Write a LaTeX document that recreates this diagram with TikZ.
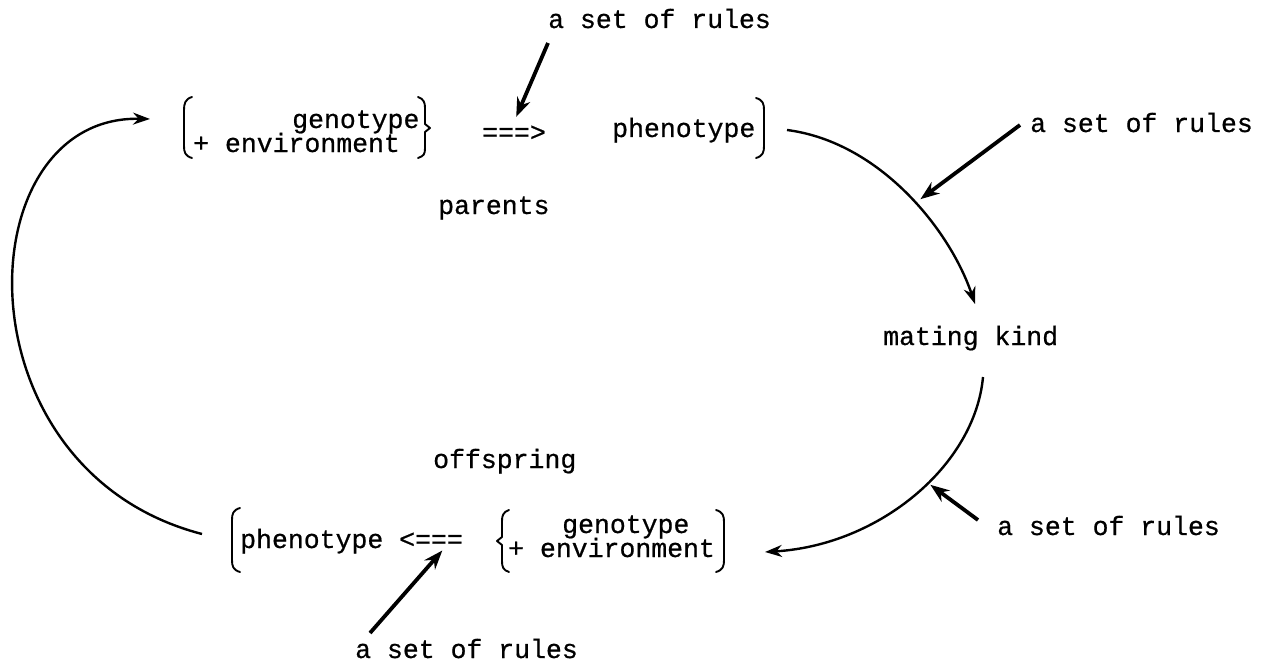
\documentclass[tikz,border=0pt]{standalone}
\usepackage{fontspec}
\newfontfamily\tw[FakeBold=0.6]{Liberation Mono}
\usetikzlibrary{arrows.meta}
\tikzset{
  txt/.style={font=\tw\fontsize{26.5}{30}\selectfont, inner sep=0pt, anchor=base west},
  brk/.style={line width=1.9pt, line cap=round, line join=round},
  flow/.style={line width=2.4pt, -{Stealth[length=17pt,width=12pt]}},
  rule/.style={line width=3.8pt, -{Stealth[length=19pt,width=14pt]}, shorten >=-2pt}
}
\begin{document}
\begin{tikzpicture}[x=1pt,y=-1pt]
\useasboundingbox (0,0) rectangle (1263,666);
% texts
\node[txt] (r1) at (548,28) {a set of rules};
\node[txt] (g1a) at (292,128) {genotype};
\node[txt] (g1b) at (193,152) {+ environment};
\node[txt] (ar1) at (482,141) {===>};
\node[txt] (ph1) at (612,137) {phenotype};
\node[txt] (par) at (438,214) {parents};
\node[txt] (r2) at (1030,132) {a set of rules};
\node[txt] (mk) at (883,345) {mating kind};
\node[txt] (off) at (433,468) {offspring};
\node[txt] (r3) at (997,535) {a set of rules};
\node[txt] (ph2) at (240,548) {phenotype <===};
\node[txt] (g2a) at (562,533) {genotype};
\node[txt] (g2b) at (508,557) {+ environment};
\node[txt] (r4) at (355,658) {a set of rules};
% brackets
\draw[brk] (192,97) .. controls (185,99) and (184,104) .. (184,110) -- (184,146) .. controls (184,152) and (185,156) .. (192,158);
\draw[brk] (418,97) .. controls (424,99) and (425,103) .. (425,108) -- (425,124) -- (430,128) -- (425,132) -- (425,148) .. controls (425,154) and (424,156) .. (418,158);
\draw[brk] (756,98) .. controls (763,100) and (764,104) .. (764,110) -- (764,146) .. controls (764,152) and (763,156) .. (756,158);
\draw[brk] (240,508) .. controls (233,510) and (232,514) .. (232,520) -- (232,560) .. controls (232,566) and (233,570) .. (240,572);
\draw[brk] (509,510) .. controls (503,512) and (502,516) .. (502,521) -- (502,537) -- (497,541) -- (502,545) -- (502,561) .. controls (502,567) and (503,570) .. (509,572);
\draw[brk] (716,510) .. controls (723,512) and (724,516) .. (724,522) -- (724,560) .. controls (724,566) and (723,570) .. (716,572);
% connector end points
\coordinate (c1s) at (787,130);
\coordinate (c1e) at (975,304);
\coordinate (c2s) at (983,377);
\coordinate (c2e) at (765,552);
\coordinate (c3s) at (202,534);
\coordinate (c3e) at (150,119);
\coordinate (t1) at (548,43);  \coordinate (h1) at (517,115);
\coordinate (t2) at (1020,125); \coordinate (h2) at (922,198);
\coordinate (t3) at (978,520); \coordinate (h3) at (932,486);
\coordinate (t4) at (370,633); \coordinate (h4) at (441,552);
% flow curves
\draw[flow] (c1s) .. controls (880,142) and (950,230) .. (c1e);
\draw[flow] (c2s) .. controls (975,465) and (880,545) .. (c2e);
\draw[flow] (c3s) .. controls (-45,470) and (-35,115) .. (c3e);
% rule arrows
\draw[rule] (t1) -- (h1);
\draw[rule] (t2) -- (h2);
\draw[rule] (t3) -- (h3);
\draw[rule] (t4) -- (h4);
\end{tikzpicture}
\end{document}
